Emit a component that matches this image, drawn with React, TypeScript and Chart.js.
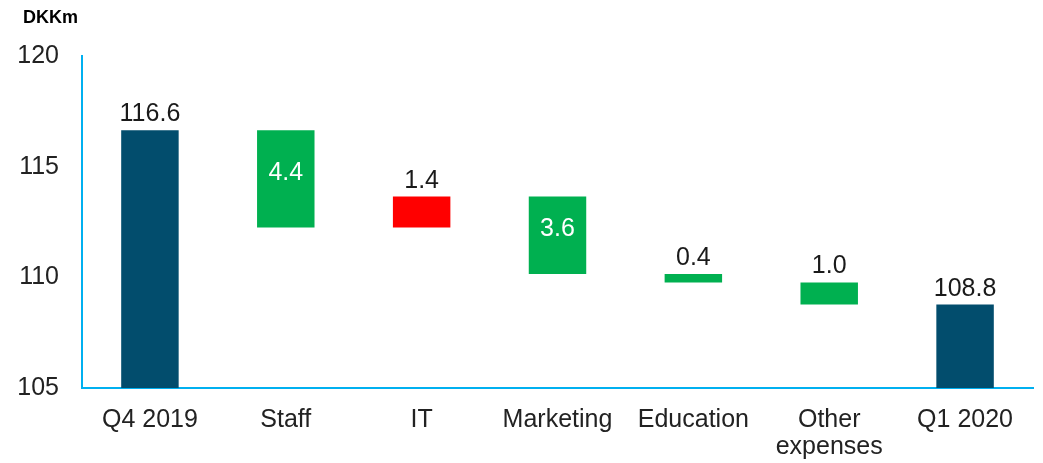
import React, { useEffect, useRef } from "react";
import { Chart, registerables } from "chart.js";

Chart.register(...registerables);

const categories: (string | string[])[] = ["Q4 2019", "Staff", "IT", "Marketing", "Education", ["Other", "expenses"], "Q1 2020"];
const barStart = [105, 112.25, 112.25, 110.15, 109.77, 108.77, 105];
const barEnd = [116.65, 116.65, 113.65, 113.65, 110.15, 109.77, 108.77];
const valueLabels = ["116.6", "4.4", "1.4", "3.6", "0.4", "1.0", "108.8"];
const labelInside = [false, true, false, true, false, false, false];
const barColors = ["#024D6D", "#00B050", "#FF0000", "#00B050", "#00B050", "#00B050", "#024D6D"];
const yTicks = [105, 110, 115, 120];
const unitLabel = "DKKm";

const FONT = "'Liberation Sans', Arial, sans-serif";

const labelPlugin = {
  id: "waterfallLabels",
  afterDatasetsDraw(chart: any) {
    const ctx = chart.ctx;
    const meta = chart.getDatasetMeta(0);
    ctx.save();
    ctx.font = `25px ${FONT}`;
    ctx.textAlign = "center";
    meta.data.forEach((el: any, i: number) => {
      const top = Math.min(el.y, el.base);
      const bottom = Math.max(el.y, el.base);
      if (labelInside[i]) {
        ctx.fillStyle = "#FFFFFF";
        ctx.textBaseline = "middle";
        ctx.fillText(valueLabels[i], el.x, (top + bottom) / 2 - 6);
      } else {
        ctx.fillStyle = "#1a1a1a";
        ctx.textBaseline = "alphabetic";
        ctx.fillText(valueLabels[i], el.x, top - 9);
      }
    });
    ctx.font = `bold 18px ${FONT}`;
    ctx.fillStyle = "#000000";
    ctx.textAlign = "left";
    ctx.textBaseline = "alphabetic";
    ctx.fillText(unitLabel, 23, 23);
    ctx.restore();
  },
};

export default function App() {
  const ref = useRef<HTMLCanvasElement>(null);
  useEffect(() => {
    if (!ref.current) return;
    const chart = new Chart(ref.current, {
      type: "bar",
      data: {
        labels: categories as any,
        datasets: [
          {
            data: barStart.map((s, i) => [s, barEnd[i]]) as any,
            backgroundColor: barColors,
            borderWidth: 0,
            barPercentage: 0.423,
            categoryPercentage: 1,
          },
        ],
      },
      options: {
        animation: false,
        responsive: false,
        maintainAspectRatio: false,
        layout: { padding: { top: 56, right: 10, left: 0, bottom: 0 } },
        plugins: { legend: { display: false }, tooltip: { enabled: false } },
        scales: {
          x: {
            grid: { display: false, drawTicks: false },
            border: { display: true, color: "#00B0F0", width: 2 },
            ticks: {
              color: "#222222",
              font: { family: FONT, size: 25, lineHeight: 1.08 },
              padding: 19,
              maxRotation: 0,
              autoSkip: false,
            },
            afterFit(scale: any) {
              scale.height = 75;
            },
          },
          y: {
            min: 105,
            max: 120,
            grid: { display: false, drawTicks: false },
            border: { display: true, color: "#00B0F0", width: 2 },
            afterBuildTicks(scale: any) {
              scale.ticks = yTicks.map((v) => ({ value: v }));
            },
            ticks: {
              color: "#222222",
              font: { family: FONT, size: 25 },
              padding: 23,
            },
            afterFit(scale: any) {
              scale.width = 82;
            },
          },
        },
      },
      plugins: [labelPlugin],
    });
    return () => chart.destroy();
  }, []);
  return (
    <div style={{ position: "absolute", left: 0, top: 0, width: 1043, height: 463, background: "#fff" }}>
      <canvas ref={ref} width={1043} height={463} style={{ width: 1043, height: 463 }} />
    </div>
  );
}
